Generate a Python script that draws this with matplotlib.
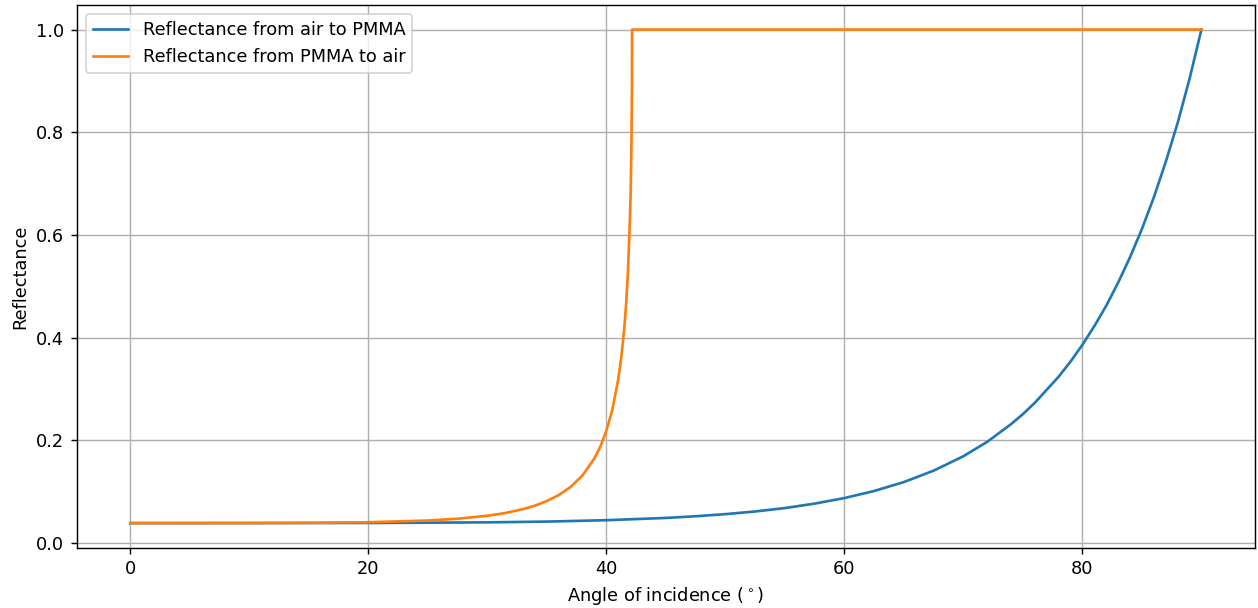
import matplotlib
matplotlib.use("Agg")
import matplotlib.pyplot as plt

# values
angle_air_pmma = [0, 10, 20, 30, 35, 40, 45, 47.5, 50, 52.5, 55, 57.5, 60, 62.5, 65, 67.5,
                  70, 72, 74, 75, 76, 78, 79, 80, 81, 82, 83, 84, 85, 86, 87, 88, 89, 90]
refl_air_pmma = [0.0387, 0.0388, 0.0390, 0.0402, 0.0417, 0.0444, 0.0488, 0.0521, 0.0562,
                 0.0614, 0.068, 0.0767, 0.0875, 0.1013, 0.1187, 0.1409, 0.169, 0.197,
                 0.2314, 0.251, 0.273, 0.3238, 0.3533, 0.386, 0.4223, 0.462, 0.507,
                 0.5566, 0.6116, 0.673, 0.742, 0.818, 0.904, 1.0]

angle_pmma_air = [0, 10, 15, 20, 25, 27.5, 30, 31.5, 33, 34, 35, 36, 37, 38, 39, 39.5, 40,
                  40.5, 41, 41.25, 41.5, 41.65, 41.8, 41.9, 42, 42.05, 42.1, 42.12, 42.15,
                  42.16, 90]
refl_pmma_air = [0.0387, 0.0389, 0.0393, 0.0404, 0.0438, 0.0472, 0.053, 0.0584, 0.066,
                 0.0728, 0.0817, 0.0934, 0.1093, 0.1318, 0.165, 0.188, 0.2186, 0.259,
                 0.319, 0.3607, 0.4168, 0.461, 0.52, 0.58, 0.645, 0.6917, 0.763, 0.804,
                 0.893, 1.0, 1.0]

fig, ax = plt.subplots(figsize=(1258 / 128, 608 / 128), dpi=128)
ax.plot(angle_air_pmma, refl_air_pmma, label='Reflectance from air to PMMA')
ax.plot(angle_pmma_air, refl_pmma_air, label='Reflectance from PMMA to air')
ax.set_xlabel(r'Angle of incidence ($^\circ$)')
ax.set_ylabel('Reflectance')
ax.grid(True)
ax.legend(loc='upper left')
fig.subplots_adjust(left=0.061, right=0.9976, top=0.992, bottom=0.099)
fig.savefig('out.png')
